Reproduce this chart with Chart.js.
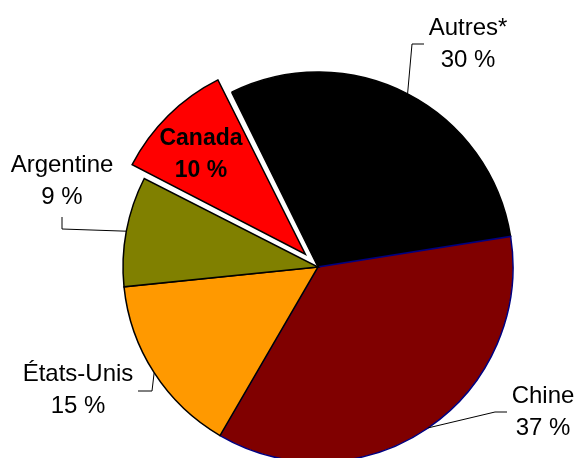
<!DOCTYPE html>
<html>
<head>
<meta charset="utf-8">
<script src="https://cdn.jsdelivr.net/npm/chart.js@4"></script>
<style>
  html, body { margin: 0; padding: 0; background: #fff; }
  #myChart { display: block; }
</style>
</head>
<body>
<canvas id="myChart" width="577" height="458"></canvas>
<script>
const labels = ["Autres*", "Chine", "États-Unis", "Argentine", "Canada"];
const shares = [30.4, 36.6, 15.3, 9.3, 10.4];
const colors = ["#000000", "#800000", "#FF9900", "#808000", "#FF0000"];
const borders = ["#000000", "#000080", "#000000", "#000000", "#000000"];
const offsets = [0, 0, 0, 0, 72];

// label placement relative to the pie centre: elbow, line end, text x, first baseline
const labelLayout = [
    { elbow: [94, -223], end: [106, -223], tx: 150, ty: -232 },
    { elbow: [177, 145], end: [189, 145], tx: 225, ty: 136 },
    { elbow: [-166, 124], end: [-180, 124], tx: -240, ty: 114 },
    { elbow: [-256, -38], end: [-256, -50], tx: -256, ty: -95 },
    { inside: true, tx: -117, ty: -122 }
];

// chart.js grows an exploded slice's radius a bit, undo that so it keeps the pie radius
const keepRadius = {
    id: 'keepRadius',
    beforeDatasetsDraw(chart) {
        const meta = chart.getDatasetMeta(0);
        const base = meta.controller.outerRadius;
        meta.data.forEach(arc => {
            const off = (arc.options.offset || 0) / 4;
            const circ = arc.endAngle - arc.startAngle;
            const fix = 1 - Math.sin(Math.min(Math.PI, circ));
            arc.outerRadius = base - off * fix;
        });
    }
};

const pieLabels = {
    id: 'pieLabels',
    afterDatasetsDraw(chart) {
        const ctx = chart.ctx;
        const meta = chart.getDatasetMeta(0);
        const r = meta.controller.outerRadius;
        ctx.save();
        ctx.textAlign = 'center';
        ctx.textBaseline = 'alphabetic';
        ctx.fillStyle = '#000';
        ctx.strokeStyle = '#000';
        ctx.lineWidth = 1;
        meta.data.forEach((arc, i) => {
            const lay = labelLayout[i];
            const cx = arc.x;
            const cy = arc.y;
            if (!lay.inside) {
                const mid = (arc.startAngle + arc.endAngle) / 2;
                const ax = cx + r * Math.cos(mid);
                const ay = cy + r * Math.sin(mid);
                ctx.beginPath();
                ctx.moveTo(ax, ay);
                ctx.lineTo(cx + lay.elbow[0], cy + lay.elbow[1]);
                ctx.lineTo(cx + lay.end[0], cy + lay.end[1]);
                ctx.stroke();
                ctx.font = '24px "Liberation Sans", Arial, sans-serif';
            } else {
                ctx.font = 'bold 23px "Liberation Sans", Arial, sans-serif';
            }
            ctx.fillText(labels[i], cx + lay.tx, cy + lay.ty);
            ctx.fillText(Math.round(shares[i]) + ' %', cx + lay.tx, cy + lay.ty + 32);
        });
        ctx.restore();
    }
};

const ctx = document.getElementById("myChart").getContext("2d");

new Chart(ctx, {
    type: 'pie',
    data: {
        labels: labels,
        datasets: [{
            data: shares,
            backgroundColor: colors,
            borderColor: borders,
            borderWidth: 1.5,
            offset: offsets,
            borderJoinStyle: 'miter',
            clip: false
        }]
    },
    options: {
        responsive: false,
        animation: false,
        rotation: -26.3,
        radius: 195,
        layout: {
            padding: { left: 59, right: 0, top: 76, bottom: 0 }
        },
        plugins: {
            legend: { display: false },
            tooltip: { enabled: false }
        }
    },
    plugins: [keepRadius, pieLabels]
});
</script>
</body>
</html>
